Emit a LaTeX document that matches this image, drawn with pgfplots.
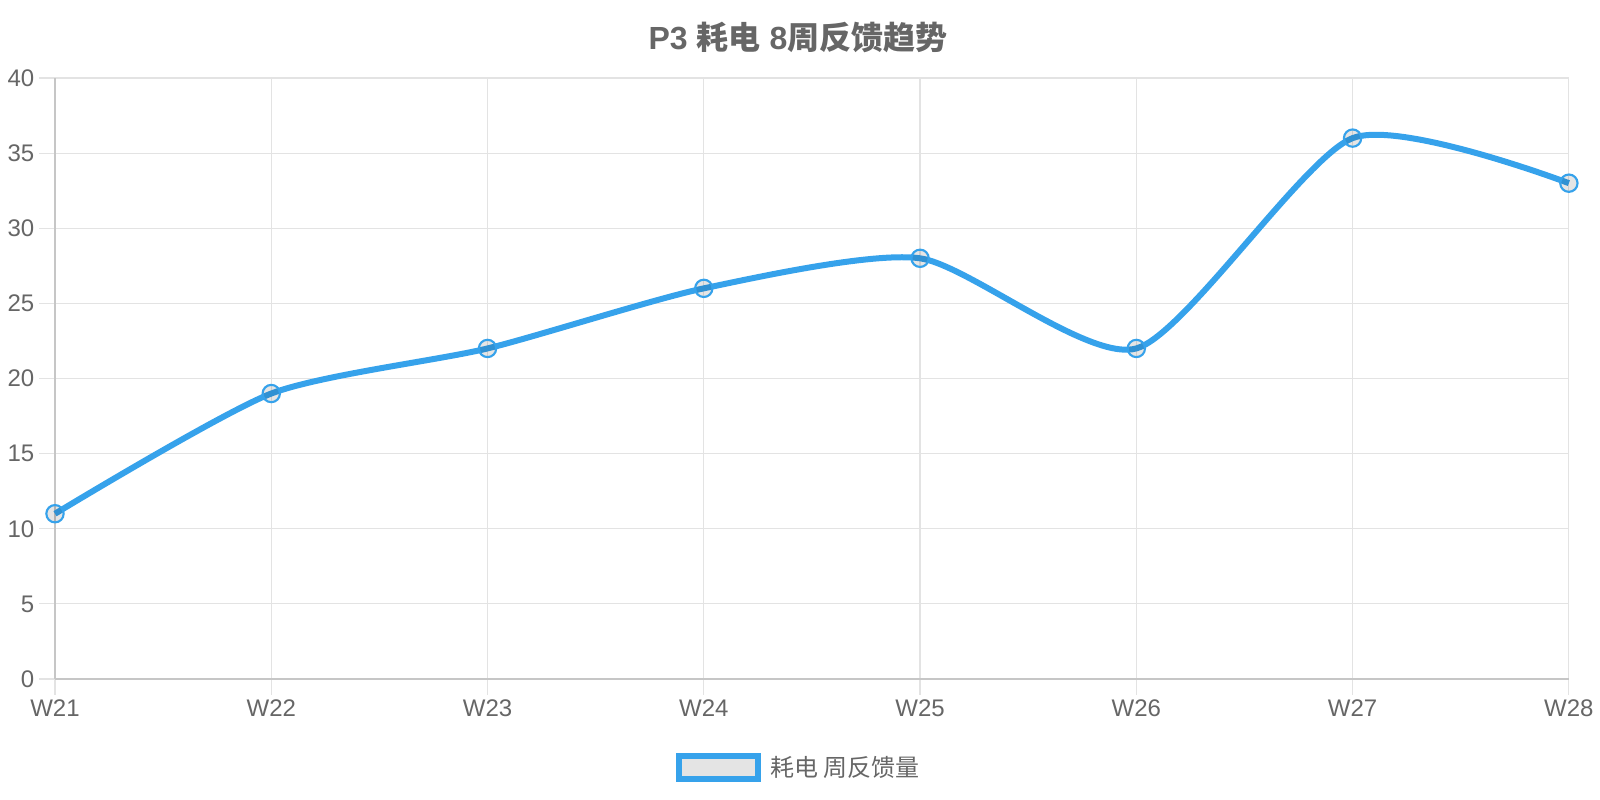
\documentclass[border=0pt]{standalone}
\usepackage{pgfplots}
\pgfplotsset{compat=1.18}
\usepackage{fontspec}
\setmainfont{Liberation Sans}
\newfontfamily\cjk{Noto Sans CJK SC}
\definecolor{lineblue}{HTML}{36A2EB}
\definecolor{txt}{HTML}{666666}
\definecolor{gridc}{HTML}{E3E3E3}
\definecolor{axc}{HTML}{C6C6C6}
\definecolor{ptfill}{HTML}{E4E4E4}
\begin{document}
\begin{tikzpicture}
\path (-41.25pt,-90.75pt) rectangle (1158.75pt,509.25pt);
\begin{axis}[
  name=ax, at={(0,0)}, anchor=south west, scale only axis,
  width=1135.5pt, height=450.75pt,
  xmin=0, xmax=7, ymin=0, ymax=40,
  xtick={0,1,2,3,4,5,6,7},
  xticklabels={W21,W22,W23,W24,W25,W26,W27,W28},
  ytick={0,5,10,15,20,25,30,35,40},
  axis lines=left,
  axis line style={-, color=axc, line width=0.9pt},
  grid=major,
  grid style={color=gridc, line width=0.9pt},
  tick align=outside,
  major tick length=12pt,
  tick style={color=gridc, line width=0.9pt},
  ticklabel style={font=\fontsize{18}{18}\selectfont, text=txt},
  /pgf/number format/assume math mode=true,
  clip=false,
]
\addplot[lineblue, line width=4.5pt, smooth, tension=0.4, no marks]
  coordinates {(0,11) (1,19) (2,22) (3,26) (4,28) (5,22) (6,36) (7,33)};
\addplot[only marks, mark=*, mark size=6.5pt,
  mark options={fill=black, fill opacity=0.1, draw=lineblue, draw opacity=1, line width=1.6pt}]
  coordinates {(0,11) (1,19) (2,22) (3,26) (4,28) (5,22) (6,36) (7,33)};
\end{axis}
\node[anchor=base, text=txt, inner sep=0pt, font=\fontsize{24}{24}\selectfont\bfseries]
  at (557.25pt,471.75pt) {P3 {\cjk 耗电} 8{\cjk 周反馈趋势}};
\draw[fill=ptfill, draw=lineblue, line width=4.5pt] (468pt,-57.75pt) rectangle (527.25pt,-75pt);
\node[anchor=base west, text=txt, inner sep=0pt, font=\cjk\fontsize{18}{18}\selectfont]
  at (536.25pt,-72.75pt) {耗电 周反馈量};
\end{tikzpicture}
\end{document}
